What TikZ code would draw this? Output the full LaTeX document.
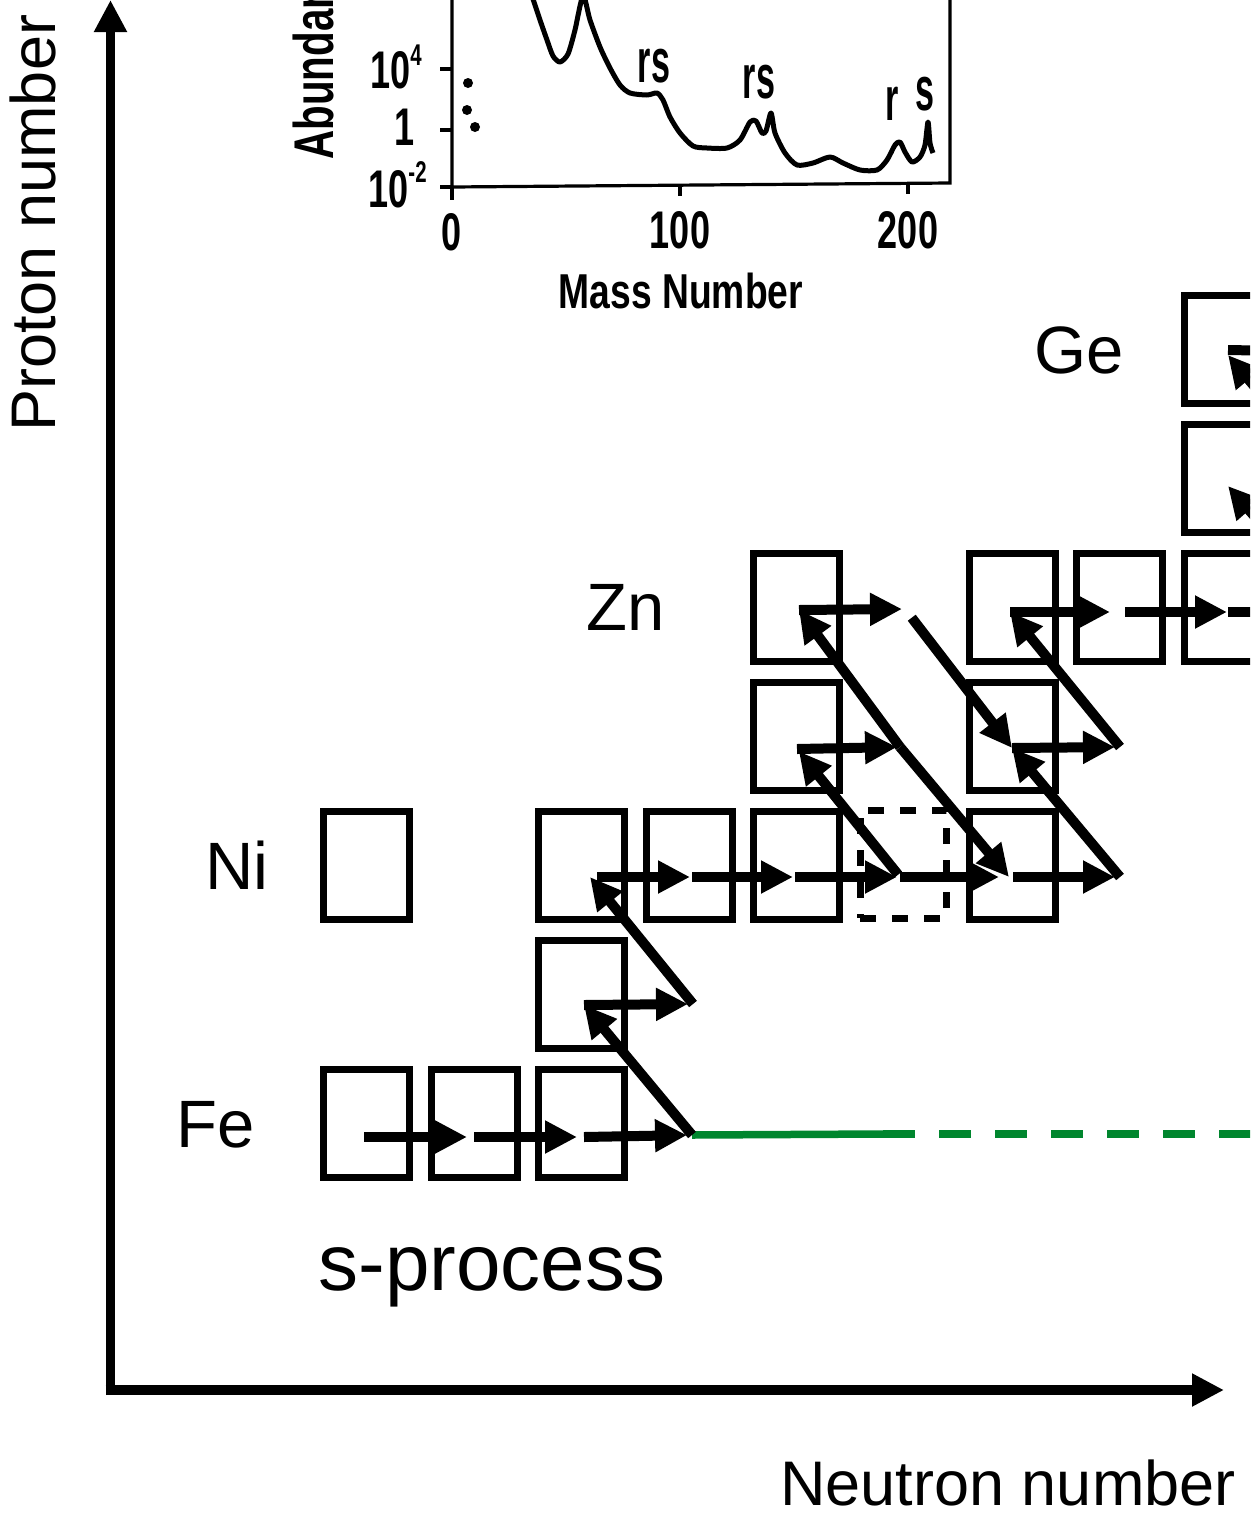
\documentclass[tikz,border=0pt]{standalone}
\usepackage{fontspec}
\setmainfont{Liberation Sans}
\usetikzlibrary{arrows.meta}
\definecolor{pathgreen}{RGB}{0,134,46}
\newcommand\InsetFnt{\bfseries}
\begin{document}
\begin{tikzpicture}[x=0.5pt,y=-0.5pt,
  nucbox/.style={draw, line width=3.5pt, minimum width=43pt, minimum height=54pt, inner sep=0pt},
  unstab/.style={nucbox, dash pattern=on 8pt off 8pt},
  flow/.style={line width=5pt, -{Triangle[length=16pt,width=15.5pt]}},
  axisline/.style={line width=4.75pt, -{Triangle[length=16pt,width=15.5pt]}},
  elem/.style={font=\fontsize{33.5}{40}\selectfont, inner sep=0pt, anchor=base west},
  axlbl/.style={font=\fontsize{31.5}{38}\selectfont, inner sep=0pt, anchor=base west},
  inlbl/.style={inner sep=0pt},
  frame/.style={line width=1.6pt},
  green solid/.style={draw=pathgreen, line width=3.75pt},
  green dash/.style={draw=pathgreen, line width=3.75pt, dash pattern=on 16pt off 12pt}
]
\useasboundingbox (0,0) rectangle (1250,1516);
\clip (0,0) rectangle (1250,1516);

% ---------------- inset plot ----------------
\draw[frame] (452,-5) -- (452,187) -- (950,183) -- (950,-5);
\draw[frame] (440,69) -- (452,69) (440,130) -- (452,130) (440,187) -- (452,187)
  (452,187) -- (452,200) (680,185) -- (680,196) (908,183) -- (908,194);
\draw[line width=2.5pt, line join=round] plot[smooth, tension=0.45] coordinates {
  (532,-4) (540,20) (547,40) (553,56) (560,62) (568,54) (575,30) (583,-4)
  (590,20) (600,47) (610,68) (620,85) (630,93) (647,95) (657,93) (663,100)
  (670,117) (680,133) (693,146) (707,148) (727,148) (740,140) (750,122)
  (756,121) (762,133) (766,131) (771,113) (775,133) (785,153) (797,165)
  (813,163) (830,157) (843,163) (860,170) (877,170) (887,160) (895,145)
  (900,142) (905,152) (912,162) (920,157) (925,145) (928,122) (930,143) (933,153)};
\fill (468,83) circle[radius=5] (467,110) circle[radius=5] (475,127) circle[radius=5];
\node[inlbl, anchor=base west] (t4) at (370,88)
  {\scalebox{0.68}[1]{\fontsize{26.5}{30}\selectfont\InsetFnt 10\raisebox{11.5pt}{\fontsize{15}{15}\selectfont 4}}};
\node[inlbl, anchor=base] (t1) at (405,145)
  {\scalebox{0.68}[1]{\fontsize{26.5}{30}\selectfont\InsetFnt 1}};
\node[inlbl, anchor=base west] (tm2) at (368,207)
  {\scalebox{0.68}[1]{\fontsize{26.5}{30}\selectfont\InsetFnt 10\raisebox{12.5pt}{\fontsize{15}{15}\selectfont -2}}};
\node[inlbl, anchor=base] (x0) at (452,250) {\scalebox{0.68}[1]{\fontsize{26.5}{30}\selectfont\InsetFnt 0}};
\node[inlbl, anchor=base] (x100) at (680,248) {\scalebox{0.68}[1]{\fontsize{26.5}{30}\selectfont\InsetFnt 100}};
\node[inlbl, anchor=base] (x200) at (908,248) {\scalebox{0.68}[1]{\fontsize{26.5}{30}\selectfont\InsetFnt 200}};
\node[inlbl, anchor=base] (mass) at (681,308) {\scalebox{0.76}[1]{\fontsize{24.5}{30}\selectfont\InsetFnt Mass Number}};
\node[inlbl, rotate=90, anchor=base west] (abund) at (333,160) {\scalebox{0.72}[1]{\fontsize{28}{32}\selectfont\InsetFnt Abundan}};
\node[inlbl, anchor=base] (rs1) at (654,82) {\scalebox{0.55}[1]{\fontsize{31}{34}\selectfont\InsetFnt rs}};
\node[inlbl, anchor=base] (rs2) at (759,98) {\scalebox{0.55}[1]{\fontsize{31}{34}\selectfont\InsetFnt rs}};
\node[inlbl, anchor=base] (r3) at (892,120) {\scalebox{0.55}[1]{\fontsize{31}{34}\selectfont\InsetFnt r}};
\node[inlbl, anchor=base] (s3) at (925,110) {\scalebox{0.55}[1]{\fontsize{31}{34}\selectfont\InsetFnt s}};

% ---------------- axes ----------------
\coordinate (origin) at (110.5,1395);
\coordinate (ytip) at (110.5,0);
\coordinate (xorigin) at (105.5,1390);
\coordinate (xtip) at (1224,1390);
\draw[axisline] (origin) -- (ytip);
\draw[axisline] (xorigin) -- (xtip);
\node[axlbl, rotate=90] (plabel) at (55,432) {Proton number};
\node[axlbl] (nlabel) at (780,1505) {Neutron number};
\node[anchor=base west, inner sep=0pt, font=\fontsize{40}{48}\selectfont] (sproc) at (318,1290) {s-process};

% ---------------- element labels ----------------
\node[elem] (lge) at (1034,373) {Ge};
\node[elem] (lzn) at (586,630) {Zn};
\node[elem] (lni) at (205,889) {Ni};
\node[elem] (lfe) at (176,1147) {Fe};

% ---------------- green path ----------------
\coordinate (fe59) at (692,1135);
\coordinate (gmid) at (883,1134);
\coordinate (gend) at (1260,1134);
\draw[green solid] (fe59) -- (gmid);
\draw[green dash] (gmid) -- (gend);

% ---------------- nuclide boxes ----------------
\node[nucbox] (bfe56) at (366.5,1123) {};
\node[nucbox] (bfe57) at (474.1,1123) {};
\node[nucbox] (bfe58) at (581.7,1123) {};
\node[nucbox] (bco59) at (581.7,994) {};
\node[nucbox] (bni58) at (366.5,865) {};
\node[nucbox] (bni60) at (581.7,865) {};
\node[nucbox] (bni61) at (689.3,865) {};
\node[nucbox] (bni62) at (796.9,865) {};
\node[unstab] (bni63) at (903,864) {};
\node[nucbox] (bni64) at (1012.1,865) {};
\node[nucbox] (bcu63) at (796.9,736) {};
\node[nucbox] (bcu65) at (1012.1,736) {};
\node[nucbox] (bzn64) at (796.9,607) {};
\node[nucbox] (bzn66) at (1012.1,607) {};
\node[nucbox] (bzn67) at (1119.7,607) {};
\node[nucbox] (bzn68) at (1227.3,607) {};
\node[nucbox] (bga69) at (1227.3,478) {};
\node[nucbox] (bge70) at (1227.3,349.5) {};

% ---------------- reaction points ----------------
\coordinate (fe56) at (364,1137);
\coordinate (fe57) at (474,1137);
\coordinate (fe58) at (584,1137);
\coordinate (co59) at (584,1005);
\coordinate (co60) at (693,1004);
\coordinate (ni60) at (590,877);
\coordinate (ni61) at (692,877);
\coordinate (ni62) at (795,877);
\coordinate (ni63) at (900,877);
\coordinate (ni64) at (1009,877);
\coordinate (ni65) at (1120,877);
\coordinate (cu63) at (797,749);
\coordinate (cu64) at (900,747);
\coordinate (cu65) at (1012,748);
\coordinate (cu66) at (1120,747);
\coordinate (zn64) at (799,610);
\coordinate (zn65) at (905,609);
\coordinate (zn66) at (1010,612);
\coordinate (zn67) at (1120,612);
\coordinate (zn68) at (1228,612);
\coordinate (zn69) at (1338,612);
\coordinate (ga69) at (1228,486);
\coordinate (ga70) at (1338,486);
\coordinate (ge70) at (1228,355);
\coordinate (ge71) at (1338,352);
\coordinate (ge70h) at (1228,350);

% ---------------- neutron captures ----------------
\draw[flow, shorten >=3.5pt] (fe56) -- (fe57);
\draw[flow, shorten >=3.5pt] (fe57) -- (fe58);
\draw[flow, shorten >=2.5pt] (fe58) -- (fe59);
\draw[flow, shorten >=2.5pt] (co59) -- (co60);
\draw[flow, shorten <=3.5pt, shorten >=1pt] (ni60) -- (ni61);
\draw[flow, shorten >=1pt] (ni61) -- (ni62);
\draw[flow, shorten >=1.5pt] (ni62) -- (ni63);
\draw[flow, shorten >=5pt] (ni63) -- (ni64);
\draw[flow, shorten <=2pt, shorten >=2.5pt] (ni64) -- (ni65);
\draw[flow, shorten >=1.5pt] (cu63) -- (cu64);
\draw[flow, shorten >=2.5pt] (cu65) -- (cu66);
\draw[flow, shorten >=1.5pt] (zn64) -- (zn65);
\draw[flow, shorten >=5pt] (zn66) -- (zn67);
\draw[flow, shorten <=2.5pt, shorten >=0.5pt] (zn67) -- (zn68);
\draw[flow] (zn68) -- (zn69);
\draw[line width=5pt] (ge70h) -- (ge71);

% ---------------- beta decays ----------------
\draw[flow] (fe59) -- (co59);
\draw[flow] (co60) -- (ni60);
\draw[flow, shorten <=1.5pt, shorten >=1.5pt] (ni63) -- (cu63);
\draw[flow] (cu64) -- (zn64);
\draw[flow] (cu64) -- (ni64);
\draw[flow, shorten <=5.5pt] (zn65) -- (cu65);
\draw[flow] (cu66) -- (zn66);
\draw[flow] (ni65) -- (cu65);
\draw[flow] (zn69) -- (ga69);
\draw[flow] (ga70) -- (ge70);
\end{tikzpicture}
\end{document}
